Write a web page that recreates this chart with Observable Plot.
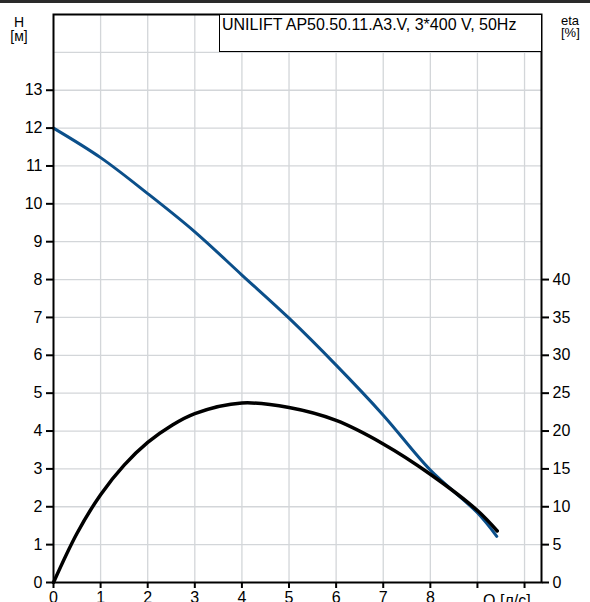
<!DOCTYPE html>
<html><head><meta charset="utf-8">
<script src="https://cdn.jsdelivr.net/npm/d3@7"></script>
<script src="https://cdn.jsdelivr.net/npm/@observablehq/plot@0.6"></script>
<style>
body{margin:0;background:#fff;font-family:"Liberation Sans",Arial,sans-serif;}
#wrap{position:relative;width:590px;height:602px;overflow:hidden;}
#topline{position:absolute;left:0;top:0;width:590px;height:3px;background:#2a2a2a;}
#box{position:absolute;left:219px;top:14px;width:321px;height:36px;border:1px solid #000;background:#fff;}
.lbl{position:absolute;color:#000;white-space:nowrap;}
</style></head>
<body><div id="wrap"></div>
<script>
// Data
const qH = [0, 1, 2, 3, 4, 5, 6, 7, 8, 9, 9.41];
const hValues = [12, 11.22, 10.27, 9.26, 8.12, 6.98, 5.74, 4.42, 2.97, 1.84, 1.22];
const qEta = [0, 0.5, 1, 1.5, 2, 2.5, 3, 4, 5, 6, 7, 8, 9, 9.42];
const etaValues = [0, 6.5, 11.6, 15.5, 18.5, 20.7, 22.3, 23.7, 23.1, 21.4, 18.3, 14.3, 9.5, 6.8];
const qTicks = [0, 1, 2, 3, 4, 5, 6, 7, 8, 9, 10];
const qTickLabels = ["0", "1", "2", "3", "4", "5", "6", "7", "8", "", ""];
const hTicks = [0, 1, 2, 3, 4, 5, 6, 7, 8, 9, 10, 11, 12, 13];
const etaTicks = [0, 5, 10, 15, 20, 25, 30, 35, 40];
const title = "UNILIFT AP50.50.11.A3.V, 3*400 V, 50Hz";

const hData = qH.map((q, i) => ({q, h: hValues[i]}));
const etaData = qEta.map((q, i) => ({q, eta: etaValues[i]}));
const etaPerH = 5;

const font = '"Liberation Sans", Arial, sans-serif';
const grid = {stroke: "#d3d6d9", strokeOpacity: 1, strokeWidth: 1.3};
const axisStyle = {tickSize: 7, tickPadding: 4, stroke: "#000", strokeWidth: 2, fill: "#000", fontSize: 16, label: null};

const chart = Plot.plot({
  width: 590, height: 602,
  marginLeft: 53, marginRight: 49, marginTop: 14, marginBottom: 20,
  style: {fontFamily: font, fontSize: "16px", background: "white", color: "#000"},
  x: {domain: [0, 10.36]},
  y: {domain: [0, 15]},
  marks: [
    Plot.gridX(d3.range(1, 11), grid),
    Plot.gridY(d3.range(1, 15), grid),
    Plot.line(hData, {x: "q", y: "h", stroke: "#0b4f8a", strokeWidth: 3, curve: "catmull-rom"}),
    Plot.line(etaData, {x: "q", y: d => d.eta / etaPerH, stroke: "#000", strokeWidth: 3.5, curve: "catmull-rom"}),
    Plot.frame({stroke: "#000", strokeWidth: 2}),
    Plot.axisY(hTicks, {...axisStyle, anchor: "left"}),
    Plot.axisY(etaTicks.map(e => e / etaPerH), {...axisStyle, anchor: "right", tickFormat: d => String(Math.round(d * etaPerH))}),
    Plot.axisX(qTicks, {...axisStyle, tickSize: 6, tickPadding: 3, anchor: "bottom", tickFormat: d => qTickLabels[qTicks.indexOf(d)]}),
    Plot.text(["Q [л/с]"], {x: 10.13, y: 0, dy: 18, textAnchor: "end", lineAnchor: "middle", fontSize: 16, fill: "#000"})
  ]
});
const wrap = document.getElementById("wrap");
wrap.appendChild(chart);
wrap.insertAdjacentHTML("beforeend",
  `<div id="topline"></div>
   <div id="box"></div>
   <div class="lbl" style="left:222px;top:16px;font-size:16px;line-height:18px">${title}</div>
   <div class="lbl" style="left:0;top:15px;width:38px;text-align:center;font-size:14px;line-height:14px">H</div>
   <div class="lbl" style="left:0;top:29px;width:38px;text-align:center;font-size:14px;line-height:14px">[м]</div>
   <div class="lbl" style="left:561px;top:15px;font-size:13px;line-height:12px">eta</div>
   <div class="lbl" style="left:561px;top:27px;font-size:13px;line-height:12px">[%]</div>`);
</script>
</body></html>
